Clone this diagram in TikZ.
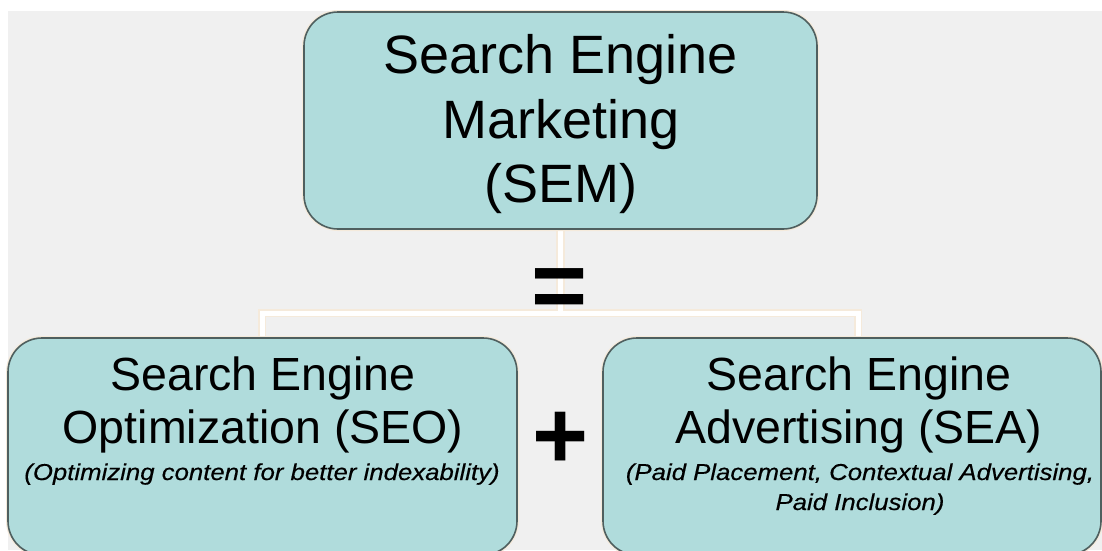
\documentclass[tikz,border=0pt]{standalone}
\usepackage{fontspec}
\setmainfont{Liberation Sans}
\newfontfamily\notefont{Liberation Sans}[FakeStretch=1.12, FakeBold=0.4]
\usetikzlibrary{backgrounds}
\begin{document}
\definecolor{pagegrey}{HTML}{F0F0F0}
\definecolor{boxfill}{HTML}{B0DCDC}
\definecolor{boxedge}{HTML}{4F5F5F}
\definecolor{halo}{HTML}{F5EADB}
\tikzset{
  box/.style={rounded corners=34pt, fill=boxfill, draw=boxedge, line width=1.6pt,
    inner sep=0pt, preaction={draw=halo, line width=4pt}},
  busouter/.style={draw=halo, line width=8.5pt},
  businner/.style={draw=white, line width=5pt},
  bigtext/.style={anchor=base, font=\fontsize{54}{60}\selectfont},
  midtext/.style={anchor=base, font=\fontsize{46.5}{52}\selectfont},
  smalltext/.style={anchor=base, font=\notefont\fontsize{23}{26}\selectfont\itshape},
  signtext/.style={font=\fontsize{96}{100}\selectfont\bfseries, inner sep=0pt}
}
\begin{tikzpicture}[x=1pt,y=-1pt]
  \useasboundingbox (0,0) rectangle (1102,550);
  \begin{scope}
    \clip (0,0) rectangle (1102,550);
    % the three boxes
    \node[box, minimum width=513pt, minimum height=217pt] (sem) at (560.5,120.5) {};
    \node[box, minimum width=509pt, minimum height=217pt] (seo) at (262.5,446.5) {};
    \node[box, minimum width=498pt, minimum height=217pt] (sea) at (852,446.5) {};
  \end{scope}
  % page, grey backdrop and tree connector, all behind the boxes
  \coordinate (busL) at (262,313);
  \coordinate (busR) at (858,313);
  \coordinate (busM) at (sem.south |- busL);
  \begin{scope}[on background layer]
    \fill[white] (0,0) rectangle (1102,550);
    \fill[pagegrey] (8,11) rectangle (1102,550);
    \foreach \s in {busouter,businner}{
      \path[\s] (sem.south) -- (busM);
      \path[\s] (busL |- seo.north) -- (busL) -- (busR) -- (busR |- sea.north);
    }
  \end{scope}
  % operators
  \node[signtext] (eq) at (560,294) {=};
  \node[signtext] (plus) at (561,440.5) {+};
  % top box text
  \node[bigtext] (sem1) at (561,73) {Search Engine};
  \node[bigtext] (sem2) at (561,138) {Marketing};
  \node[bigtext] (sem3) at (561,202) {(SEM)};
  % left box text
  \node[midtext] (seo1) at (263,390) {Search Engine};
  \node[midtext] (seo2) at (263,443) {Optimization (SEO)};
  \node[smalltext] (seo3) at (262,480) {(Optimizing content for better indexability)};
  % right box text
  \node[midtext] (sea1) at (859,390) {Search Engine};
  \node[midtext] (sea2) at (859,443) {Advertising (SEA)};
  \node[smalltext] (sea3) at (860,480) {(Paid Placement, Contextual Advertising,};
  \node[smalltext] (sea4) at (860,510) {Paid Inclusion)};
\end{tikzpicture}
\end{document}
